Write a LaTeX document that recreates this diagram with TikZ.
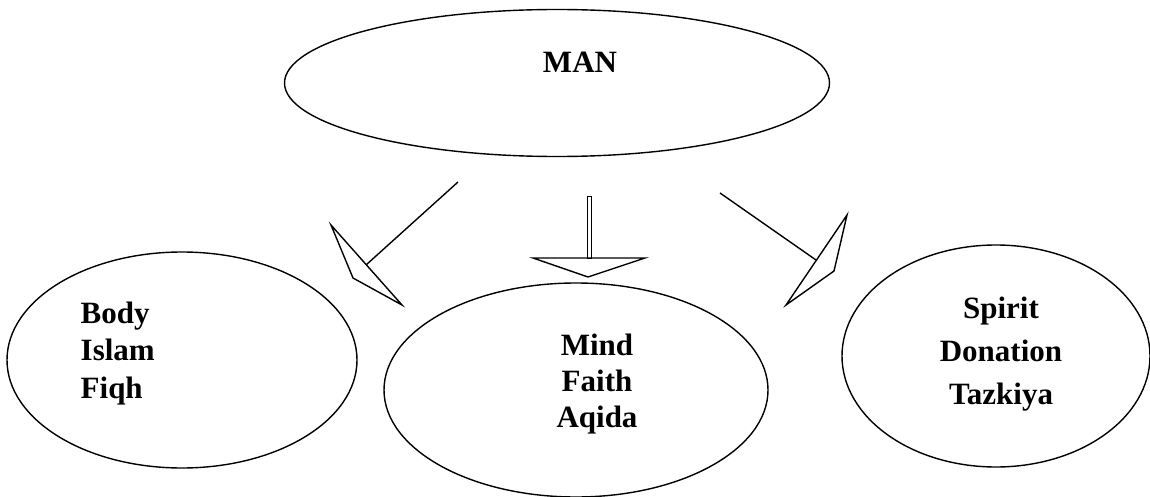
\documentclass[tikz,border=0pt]{standalone}
\usepackage{fontspec}
\setmainfont{Liberation Serif}
\usetikzlibrary{shapes.geometric}

\begin{document}
\begin{tikzpicture}[x=1pt, y=-1pt, line width=1.4pt, line join=miter,
  oval/.style={draw, ellipse, inner sep=0pt},
  word/.style={font=\bfseries\fontsize{31}{37.5}\selectfont, inner sep=0pt}]
  \useasboundingbox (0,0) rectangle (1150,497);
  % ellipses
  \node[oval, minimum width=545, minimum height=147] (man) at (557,83) {};
  \node[oval, minimum width=350, minimum height=216] (body) at (182,360) {};
  \node[oval, minimum width=384, minimum height=214] (mind) at (576,390) {};
  \node[oval, minimum width=308, minimum height=222] (spirit) at (996,356) {};
  % texts
  \node[word, anchor=base] (mantext) at (580,73) {MAN};
  \node[word, anchor=north west, align=left] (bodytext) at (80,301) {Body\\Islam\\Fiqh};
  \node[word, anchor=north, align=center,
    font=\bfseries\fontsize{31}{36}\selectfont] (mindtext) at (597,333) {Mind\\Faith\\Aqida};
  \node[word, anchor=north, align=center,
    font=\bfseries\fontsize{31}{43}\selectfont] (spirittext) at (1001,296) {Spirit\\Donation\\Tazkiya};
  % left arrow
  \coordinate (l1) at (458,182);
  \coordinate (l2) at (366,265);
  \draw (l1) -- (l2);
  \draw (331,225) -- (353,278) -- (402,305) -- cycle;
  % middle arrow
  \draw[line width=0.8pt] (587,196) rectangle (591,258);
  \draw (533,258) -- (645,258) -- (588,277) -- cycle;
  % right arrow
  \coordinate (r1) at (720,193);
  \coordinate (r2) at (816,260);
  \draw (r1) -- (r2);
  \draw (847,215) -- (834,271) -- (786,305) -- cycle;
\end{tikzpicture}
\end{document}
